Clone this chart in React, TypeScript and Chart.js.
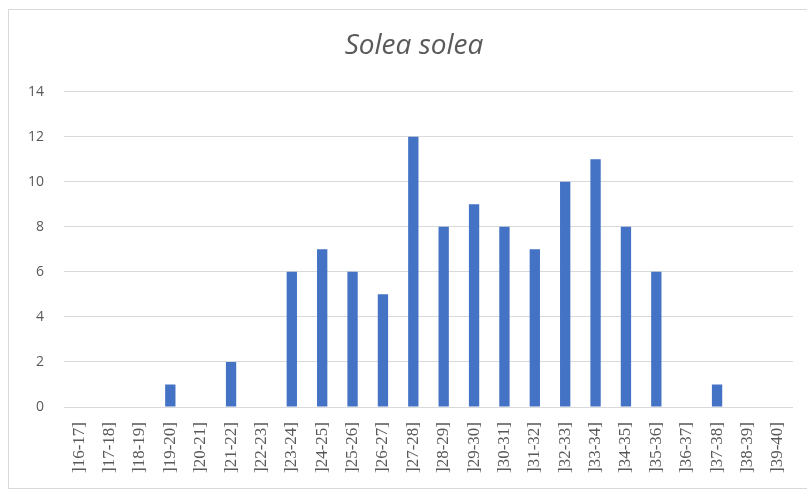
import React, { useEffect, useRef } from "react";
import { Chart, registerables } from "chart.js";

Chart.register(...registerables);

const TITLE = "Solea solea";
const CATEGORIES = [
  "]16-17]", "]17-18]", "]18-19]", "]19-20]", "]20-21]", "]21-22]", "]22-23]", "]23-24]",
  "]24-25]", "]25-26]", "]26-27]", "]27-28]", "]28-29]", "]29-30]", "]30-31]", "]31-32]",
  "]32-33]", "]33-34]", "]34-35]", "]35-36]", "]36-37]", "]37-38]", "]38-39]", "]39-40]",
];
const COUNTS = [0, 0, 0, 1, 0, 2, 0, 6, 7, 6, 5, 12, 8, 9, 8, 7, 10, 11, 8, 6, 0, 1, 0, 0];
const Y_MIN = 0;
const Y_MAX = 14;
const Y_STEP = 2;

export default function App() {
  const ref = useRef<HTMLCanvasElement>(null);
  useEffect(() => {
    if (!ref.current) return;
    const chart = new Chart(ref.current, {
      type: "bar",
      data: {
        labels: CATEGORIES,
        datasets: [
          {
            data: COUNTS,
            backgroundColor: "#4472C4",
            barPercentage: 0.34,
            categoryPercentage: 1,
          },
        ],
      },
      options: {
        animation: false,
        responsive: false,
        maintainAspectRatio: false,
        layout: { padding: 0 },
        plugins: {
          legend: { display: false },
          tooltip: { enabled: false },
          title: {
            display: true,
            text: TITLE,
            color: "#595959",
            font: { family: "Open Sans", size: 28, style: "italic", weight: "normal" },
            padding: { top: 19, bottom: 29 },
          },
        },
        scales: {
          x: {
            grid: { display: false, drawTicks: false },
            border: { display: false },
            ticks: {
              color: "#595959",
              font: { family: "Liberation Serif", size: 17 },
              minRotation: 90,
              maxRotation: 90,
              autoSkip: false,
              padding: 15,
            },
            afterFit: (scale: any) => {
              scale.height = 81;
              scale.paddingLeft = 0;
              scale.paddingRight = 26;
            },
          },
          y: {
            min: Y_MIN,
            max: Y_MAX,
            grid: { color: "#d9d9d9", drawTicks: false, lineWidth: 1 },
            border: { display: false },
            ticks: {
              stepSize: Y_STEP,
              color: "#595959",
              font: { family: "Open Sans", size: 14 },
              padding: 20,
            },
            afterFit: (scale: any) => {
              scale.width = 55;
              scale.paddingTop = 0;
              scale.paddingBottom = 0;
            },
          },
        },
      },
    });
    return () => chart.destroy();
  }, []);
  return (
    <div
      style={{
        position: "fixed",
        left: 8,
        top: 9,
        width: 812,
        height: 480,
        border: "1px solid #d9d9d9",
        boxSizing: "border-box",
        background: "#fff",
      }}
    >
      <canvas ref={ref} width={810} height={478} style={{ display: "block" }} />
    </div>
  );
}
